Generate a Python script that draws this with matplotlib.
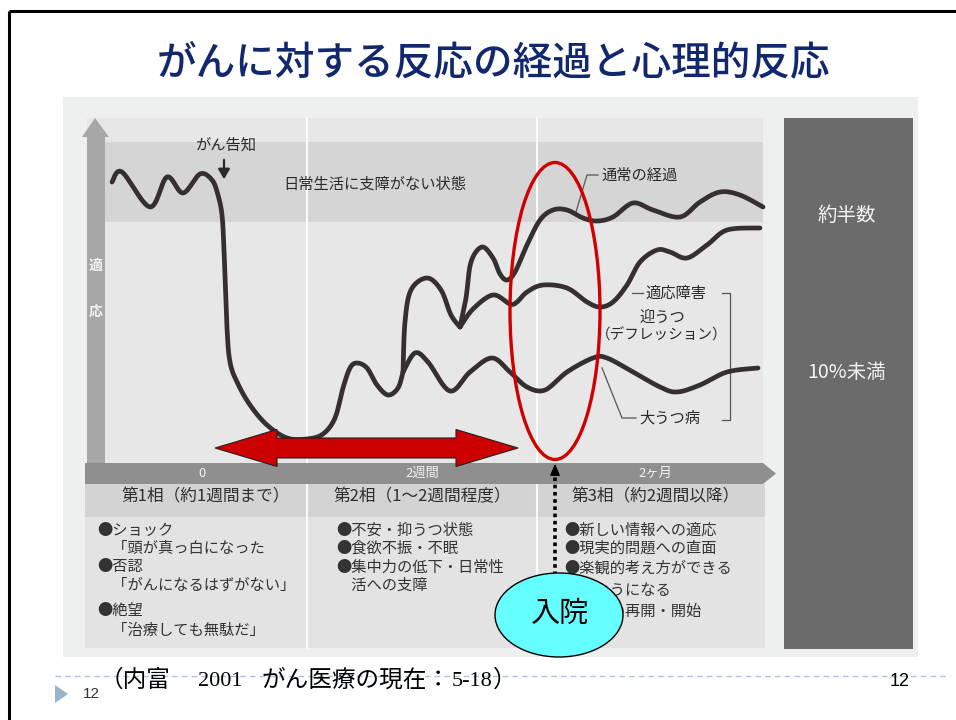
import numpy as np
import matplotlib
matplotlib.use("Agg")
import matplotlib.pyplot as plt
from matplotlib.patches import Rectangle, Polygon, Ellipse

plt.rcParams['font.family'] = ['Noto Sans CJK JP', 'DejaVu Sans']

# ---------------- data (image pixel units) ----------------
title = "がんに対する反応の経過と心理的反応"

# shared trunk: before diagnosis, the drop, the first recovery bump
trunk_x = [112, 122, 150, 167, 183, 200, 212, 218, 222, 224, 227, 230, 237, 250, 267, 287, 307, 323, 335, 343, 350, 357, 367, 377, 388, 398, 403]
trunk_y = [182, 172, 207, 177, 193, 174, 180, 195, 215, 250, 328, 362, 382, 405, 425, 438, 439, 434, 418, 388, 368, 363, 368, 385, 395, 388, 372]

# shared middle wave (to the split of normal / adjustment)
wave_x = [403, 405, 411, 427, 441, 451, 460]
wave_y = [372, 322, 290, 278, 290, 315, 327]

# 通常の経過
normal_x = [460, 466, 471, 482, 493, 500, 507, 515, 527, 540, 553, 567, 583, 597, 613, 633, 653, 680, 700, 720, 740, 763]
normal_y = [327, 298, 262, 247, 258, 274, 280, 272, 245, 220, 210, 210, 218, 221, 217, 203, 210, 217, 202, 192, 195, 207]

# 適応障害 / 迎うつ
adjust_x = [460, 473, 493, 510, 517, 527, 543, 567, 587, 600, 613, 627, 640, 657, 670, 687, 707, 727, 760]
adjust_y = [327, 309, 295, 304, 302, 292, 285, 288, 302, 307, 302, 285, 262, 250, 252, 258, 245, 230, 228]

# 大うつ病
major_x = [403, 415, 428, 450, 470, 492, 510, 527, 545, 567, 593, 607, 633, 660, 677, 700, 727, 758]
major_y = [372, 353, 362, 391, 372, 358, 372, 387, 390, 372, 358, 358, 372, 387, 392, 385, 372, 368]

x_tick_labels = ["0", "2週間", "2ヶ月"]
x_tick_pos = [202, 422, 655]

phase_headers = ["第1相（約1週間まで）", "第2相（1〜2週間程度）", "第3相（約2週間以降）"]
phase_centers = [206, 422, 655]

col1_lines = ["●ショック", "　「頭が真っ白になった", "●否認", "　「がんになるはずがない」", "●絶望", "　「治療しても無駄だ」"]
col1_y = [530, 548, 566, 585, 610, 630]
col2_lines = ["●不安・抑うつ状態", "●食欲不振・不眠", "●集中力の低下・日常性", "　活への支障"]
col2_y = [530, 548, 567, 585]
col3_lines = ["●新しい情報への適応", "●現実的問題への直面", "●楽観的考え方ができる", "　るようになる", "●活動の再開・開始"]
col3_y = [530, 548, 568, 590, 611]

right_labels = ["約半数", "10%未満"]
right_label_y = [215, 372]


def smooth(xs, ys, n=14):
    """Catmull-Rom rendering through the read points."""
    p = np.column_stack([xs, ys]).astype(float)
    p = np.vstack([p[0], p, p[-1]])
    out = []
    t = np.linspace(0, 1, n, endpoint=False)[:, None]
    for i in range(1, len(p) - 2):
        p0, p1, p2, p3 = p[i - 1], p[i], p[i + 1], p[i + 2]
        seg = 0.5 * ((2 * p1) + (-p0 + p2) * t + (2 * p0 - 5 * p1 + 4 * p2 - p3) * t ** 2
                     + (-p0 + 3 * p1 - 3 * p2 + p3) * t ** 3)
        out.append(seg)
    out.append(p[-2][None, :])
    out = np.vstack(out)
    return out[:, 0], out[:, 1]


fig = plt.figure(figsize=(9.56, 7.2), dpi=100)
ax = fig.add_axes([0, 0, 1, 1])
ax.set_xlim(0, 956)
ax.set_ylim(720, 0)
ax.axis('off')

# slide frame (top and left edges)
ax.plot([9, 956], [11, 11], color='black', lw=2.2, solid_capstyle='butt')
ax.plot([9, 9], [11, 720], color='black', lw=2.2, solid_capstyle='butt')

# title
ax.text(494, 63, title, ha='center', va='center', fontsize=28.5, color='#12286e', fontweight='medium')

# scanned image background
ax.add_patch(Rectangle((63, 97), 855, 560, facecolor='#eef0ef', edgecolor='none', zorder=0))
# plot area
ax.add_patch(Rectangle((87, 118), 676, 345, facecolor='#e6e7e6', edgecolor='none', zorder=0.5))
ax.add_patch(Rectangle((105, 142), 658, 80, facecolor='#d4d5d4', edgecolor='none', zorder=0.6))
for xv in (307, 537):
    ax.plot([xv, xv], [118, 463], color='white', lw=1.5, alpha=0.9, zorder=0.7)

# y axis arrow
ax.add_patch(Polygon([(87, 463), (87, 137), (82, 137), (95, 118), (109, 137), (105, 137), (105, 463)],
                     closed=True, facecolor='#a7a7a7', edgecolor='none', zorder=0.8))
ax.text(96, 266, "適", ha='center', va='center', fontsize=10, color='#f4f4f4', fontweight='bold', zorder=1)
ax.text(96, 312, "応", ha='center', va='center', fontsize=10, color='#f4f4f4', fontweight='bold', zorder=1)

# x axis band
ax.add_patch(Polygon([(85, 463), (763, 463), (776, 473.5), (763, 484), (85, 484)], closed=True,
                     facecolor='#8f8f8f', edgecolor='none', zorder=0.8))
for lab, xp in zip(x_tick_labels, x_tick_pos):
    ax.text(xp, 473.5, lab, ha='center', va='center', fontsize=9.5, color='#f2f2f2', zorder=1)

# table
ax.add_patch(Rectangle((85, 484), 680, 33, facecolor='#d2d3d2', edgecolor='none', zorder=0.6))
ax.add_patch(Rectangle((85, 517), 680, 131, facecolor='#e2e3e2', edgecolor='none', zorder=0.6))
for xv in (307, 537):
    ax.plot([xv, xv], [484, 648], color='white', lw=1.5, alpha=0.9, zorder=0.7)
for h, xc in zip(phase_headers, phase_centers):
    ax.text(xc, 497, h, ha='center', va='center', fontsize=12, color='#2e2e2e', zorder=1)
for lines, ys, x0 in ((col1_lines, col1_y, 97), (col2_lines, col2_y, 336), (col3_lines, col3_y, 564)):
    for s, yv in zip(lines, ys):
        ax.text(x0, yv, s, ha='left', va='center', fontsize=11, color='#333333', zorder=1)

# right dark panel
ax.add_patch(Rectangle((784, 118), 129, 531, facecolor='#6b6b6b', edgecolor='none', zorder=0.6))
for s, yv in zip(right_labels, right_label_y):
    ax.text(847, yv, s, ha='center', va='center', fontsize=14, color='#f4f4f4', zorder=1)

# curves
line_kw = dict(color='#352f30', lw=3.4, solid_capstyle='round', solid_joinstyle='round', zorder=3)
for xs, ys in ((trunk_x, trunk_y), (wave_x, wave_y), (normal_x, normal_y), (adjust_x, adjust_y), (major_x, major_y)):
    sx, sy = smooth(xs, ys)
    ax.plot(sx, sy, **line_kw)

# annotations in chart
ax.text(226, 145, "がん告知", ha='center', va='center', fontsize=11, color='#2a2a2a', zorder=2)
ax.annotate('', xy=(224, 182), xytext=(224, 157),
            arrowprops=dict(arrowstyle='-|>,head_length=0.6,head_width=0.35', color='#2a2a2a', lw=1.6), zorder=2)
ax.text(375, 184, "日常生活に支障がない状態", ha='center', va='center', fontsize=11, color='#2a2a2a', zorder=2)

lead_kw = dict(color='#555555', lw=0.9, zorder=2)
ax.plot([576, 587, 598], [212, 175, 175], **lead_kw)
ax.text(602, 175, "通常の経過", ha='left', va='center', fontsize=11, color='#2a2a2a', zorder=2)
ax.plot([632, 643], [293, 293], **lead_kw)
ax.text(676, 293, "適応障害", ha='center', va='center', fontsize=11, color='#2a2a2a', zorder=2)
ax.text(662, 317, "迎うつ", ha='center', va='center', fontsize=11, color='#2a2a2a', zorder=2)
ax.text(662, 335, "（デフレッション）", ha='center', va='center', fontsize=10.5, color='#2a2a2a', zorder=2)
ax.plot([722, 730, 730, 722], [293, 293, 420, 420], **lead_kw)
ax.plot([602, 622, 636], [368, 418, 418], **lead_kw)
ax.text(670, 418, "大うつ病", ha='center', va='center', fontsize=11, color='#2a2a2a', zorder=2)

# red ellipse
ax.add_patch(Ellipse((555, 311), 90, 297, facecolor='none', edgecolor='#d10000', lw=2.4, zorder=4))

# red double arrow
x0, x1, yc, sh, hh, hl = 215, 518, 448, 10, 18.5, 62
ax.add_patch(Polygon([(x0, yc), (x0 + hl, yc - hh), (x0 + hl, yc - sh), (x1 - hl, yc - sh), (x1 - hl, yc - hh),
                      (x1, yc), (x1 - hl, yc + hh), (x1 - hl, yc + sh), (x0 + hl, yc + sh), (x0 + hl, yc + hh)],
                     closed=True, facecolor='#cc0000', edgecolor='#222222', lw=0.8, zorder=5))

# dotted arrow for admission
ax.plot([555, 555], [575, 474], color='black', lw=2.6, ls=(0, (1, 1)), zorder=5)
ax.annotate('', xy=(555, 461), xytext=(555, 476),
            arrowprops=dict(arrowstyle='-|>,head_length=0.7,head_width=0.3', color='black', lw=1), zorder=5)

# 入院 bubble
ax.add_patch(Ellipse((559, 615), 128, 84, facecolor='#66ffff', edgecolor='black', lw=1, zorder=6))
ax.text(560, 614, "入院", ha='center', va='center', fontsize=21, color='black', zorder=7)

# footer
ax.plot([55, 950], [676, 676], color='#a9c5e2', lw=1, ls=(0, (4, 3)), zorder=1)
ax.add_patch(Polygon([(55, 685), (68, 694), (55, 703)], closed=True, facecolor='#9ab3cc', edgecolor='none'))
ax.text(91, 694, "12", ha='center', va='center', fontsize=11, color='#333333', family=['Liberation Sans'])
ax.text(900, 682, "12", ha='center', va='center', fontsize=13, color='black', family=['Liberation Sans'])
ax.text(100, 680, "（内富", ha='left', va='center', fontsize=17, color='black')
ax.text(198, 681, "2001", ha='left', va='center', fontsize=16, color='black', family=['Liberation Serif'])
ax.text(262, 680, "がん医療の現在：", ha='left', va='center', fontsize=17, color='black')
ax.text(452, 681, "5-18", ha='left', va='center', fontsize=16, color='black', family=['Liberation Serif'])
ax.text(493, 680, "）", ha='left', va='center', fontsize=17, color='black')

fig.savefig("out.png", dpi=100)
